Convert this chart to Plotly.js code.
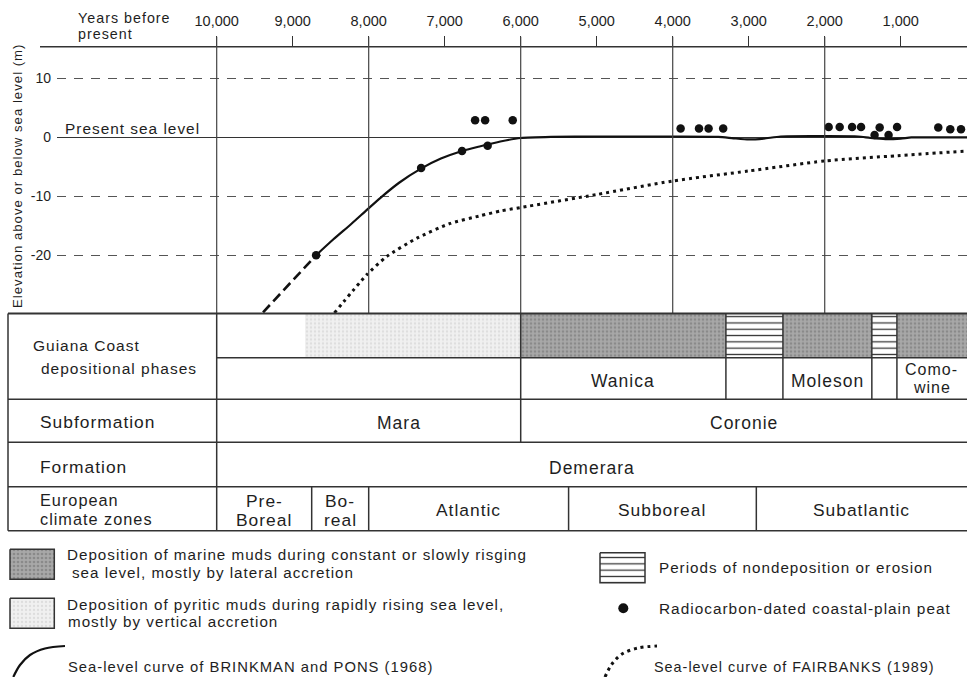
<!DOCTYPE html>
<html><head><meta charset="utf-8">
<script src="https://cdn.plot.ly/plotly-3.0.1.min.js"></script>
<style>
html,body{margin:0;padding:0;background:#fff;}
#chart{width:967px;height:677px;}
.annotation-text{letter-spacing:1px;}
</style></head><body><div id="chart"></div>
<script>
// ================= DATA =================
const yearTicks = [10000, 9000, 8000, 7000, 6000, 5000, 4000, 3000, 2000, 1000];
const yearTickLabels = ['10,000', '9,000', '8,000', '7,000', '6,000', '5,000', '4,000', '3,000', '2,000', '1,000'];
const elevTicks = [10, 0, -10, -20];
const elevTickLabels = ['10', '0', '-10', '-20'];
const majorYearLines = [10000, 8000, 6000, 4000, 2000];

// Sea-level curve of BRINKMAN and PONS (1968): extrapolated (dashed) and observed (solid)
const brinkDashYears = [9390, 8692];
const brinkDashElev = [-29.7, -20];
const brinkYears = [8692, 8464, 8230, 8024, 7849, 7600, 7312, 7050, 6772, 6530, 6268, 6000, 5600, 5000, 4000, 3400, 3200, 3000, 2800, 2580, 2000, 1560, 1400, 1200, 1000, 860, 500, 0];
const brinkElev = [-20, -17.3, -14.7, -12.3, -10.3, -7.7, -5.3, -3.6, -2.3, -1.5, -0.7, -0.1, 0.1, 0.15, 0.15, 0.1, -0.15, -0.35, -0.2, 0.15, 0.2, 0.15, -0.1, -0.3, -0.2, 0, 0, 0];

// Sea-level curve of FAIRBANKS (1989)
const fairYears = [8451, 8024, 7760, 7365, 6926, 6530, 6267, 6000, 5000, 4000, 3000, 2000, 1040, 0];
const fairElev = [-29.8, -23.3, -20.2, -17.1, -14.6, -13.3, -12.5, -11.9, -9.7, -7.4, -5.7, -4.0, -3.1, -2.2];

// Radiocarbon-dated coastal-plain peat
const peatYears = [8692, 7310, 6772, 6435, 6600, 6468, 6105, 3896, 3654, 3528, 3336, 1948, 1803, 1640, 1522, 1344, 1277, 1160, 1048, 506, 348, 207];
const peatElev = [-20, -5.2, -2.3, -1.4, 2.9, 2.9, 2.9, 1.5, 1.5, 1.5, 1.5, 1.75, 1.75, 1.75, 1.75, 0.4, 1.7, 0.4, 1.75, 1.7, 1.4, 1.4];

// Guiana Coast depositional phases (years BP)
const pyriticStart = [8840];
const pyriticEnd = [6000];
const marineStart = [6000, 2550, 1050];
const marineEnd = [3300, 1380, 0];
const gapStart = [3300, 1380];
const gapEnd = [2550, 1050];
const phaseNames = ['Wanica', 'Moleson', 'Como-\nwine'];

const subformations = ['Mara', 'Coronie'];
const subStart = [10000, 6000];
const subEnd = [6000, 0];

const formations = ['Demerara'];
const formStart = [10000];
const formEnd = [0];

const climateZones = ['Pre-\nBoreal', 'Bo-\nreal', 'Atlantic', 'Subboreal', 'Subatlantic'];
const climStart = [10000, 8750, 8000, 5370, 2900];
const climEnd = [8750, 8000, 5370, 2900, 0];

const rowTitles = ['Guiana Coast\ndepositional phases', 'Subformation', 'Formation', 'European\nclimate zones'];
const legendTexts = [
  'Deposition of marine muds during constant or slowly risging\nsea level, mostly by lateral accretion',
  'Deposition of pyritic muds during rapidly rising sea level,\nmostly by vertical accretion',
  'Sea-level curve of BRINKMAN and PONS (1968)',
  'Periods of nondeposition or erosion',
  'Radiocarbon-dated coastal-plain peat',
  'Sea-level curve of FAIRBANKS (1989)'
];

// ================= LAYOUT HELPERS =================
const W = 967, H = 677;
const PX = p => p / W;
const PY = p => 1 - p / H;
const FONT = 'Liberation Sans, Arial, Helvetica, sans-serif';
const INK = '#1e1e1e';
const LINE = '#333';

const xLeftYear = 12101, xRightYear = 128;
const plotTop = 46.7, plotBottom = 313.5, tickTop = 36.7;
const tblTop = 313.5, r1Mid = 357.7, r1Bot = 399.3, r2Bot = 442.3, r3Bot = 486.7, r4Bot = 530.7, tblLeft = 8;
const tableStartYear = 10000;

const visMid = (s, e) => (Math.min(s, xLeftYear) + Math.max(e, xRightYear)) / 2;

function txt(text, x, y, size, extra) {
  return Object.assign({
    text: text, x: x, y: y, xref: 'paper', yref: 'paper', showarrow: false,
    xanchor: 'center', yanchor: 'middle', borderpad: 0, borderwidth: 0,
    font: {family: FONT, size: size, color: INK}
  }, extra || {});
}

// ================= TRACES =================
const traces = [];

function barTrace(starts, ends, color, pattern) {
  return {
    type: 'bar', orientation: 'h', xaxis: 'x', yaxis: 'y2',
    y: starts.map(() => 0), base: starts, x: starts.map((s, i) => ends[i] - s),
    width: starts.map(() => 1),
    marker: {color: color, line: {width: 0}, pattern: pattern},
    hoverinfo: 'skip', showlegend: false
  };
}
const patMarine = {shape: '.', bgcolor: '#a8a8a8', fgcolor: '#8a8a8a', size: 4, solidity: 0.35};
const patPyritic = {shape: '.', bgcolor: '#f0f0f0', fgcolor: '#dddddd', size: 4, solidity: 0.25};
const patGap = {shape: '-', bgcolor: '#ffffff', fgcolor: '#333333', size: 6.3, solidity: 0.2};

traces.push(barTrace(pyriticStart, pyriticEnd, '#f0f0f0', patPyritic));
traces.push(barTrace(marineStart, marineEnd, '#a8a8a8', patMarine));
traces.push(barTrace(gapStart, gapEnd, '#ffffff', patGap));

traces.push({type: 'scatter', mode: 'lines', x: fairYears, y: fairElev,
  line: {color: '#111', width: 3, dash: '3px,4px', shape: 'spline', smoothing: 0.6}, hoverinfo: 'skip', showlegend: false});
traces.push({type: 'scatter', mode: 'lines', x: brinkDashYears, y: brinkDashElev,
  line: {color: '#111', width: 2.6, dash: '10px,5px'}, hoverinfo: 'skip', showlegend: false});
traces.push({type: 'scatter', mode: 'lines', x: brinkYears, y: brinkElev,
  line: {color: '#111', width: 2.2, shape: 'spline', smoothing: 0.6}, hoverinfo: 'skip', showlegend: false});
traces.push({type: 'scatter', mode: 'markers', x: peatYears, y: peatElev,
  marker: {color: '#111', size: 8.5}, hoverinfo: 'skip', showlegend: false});

// legend glyphs in a pixel-space overlay subplot
function swatch(x0, y0, x1, y1, pattern) {
  return {type: 'scatter', xaxis: 'x2', yaxis: 'y3', mode: 'lines',
    x: [x0, x1, x1, x0, x0], y: [y0, y0, y1, y1, y0], fill: 'toself',
    fillcolor: pattern.bgcolor, fillpattern: pattern,
    line: {color: LINE, width: 1.5}, hoverinfo: 'skip', showlegend: false};
}
traces.push(swatch(10, 549.3, 54.3, 579.3, patMarine));
traces.push(swatch(10, 598.3, 54.3, 628.3, patPyritic));
traces.push(swatch(600, 552.7, 645, 582.7, patGap));
traces.push({type: 'scatter', xaxis: 'x2', yaxis: 'y3', mode: 'lines',
  x: [13.3, 20, 30, 45, 65], y: [677, 665, 655, 648.5, 646],
  line: {color: '#111', width: 2.2, shape: 'spline'}, cliponaxis: false, hoverinfo: 'skip', showlegend: false});
traces.push({type: 'scatter', xaxis: 'x2', yaxis: 'y3', mode: 'lines',
  x: [605, 612, 622, 638, 657], y: [677, 664, 654, 648, 646],
  line: {color: '#111', width: 3, dash: '3px,4px', shape: 'spline'}, cliponaxis: false, hoverinfo: 'skip', showlegend: false});
traces.push({type: 'scatter', xaxis: 'x2', yaxis: 'y3', mode: 'markers',
  x: [623.3], y: [608.3], marker: {color: '#111', size: 10}, cliponaxis: false, hoverinfo: 'skip', showlegend: false});

// ================= SHAPES =================
const shapes = [];
function hline(x0, x1, py, xref, w) {
  shapes.push({type: 'line', xref: xref, yref: 'paper', x0: x0, x1: x1, y0: PY(py), y1: PY(py),
    line: {color: LINE, width: w || 1.5}});
}
function vline(x, py0, py1, xref, w, c) {
  shapes.push({type: 'line', xref: xref, yref: 'paper', x0: x, x1: x, y0: PY(py0), y1: PY(py1),
    line: {color: c || LINE, width: w || 1.5}});
}
// top axis line
hline(PX(40), 1, plotTop, 'paper', 1.5);
// major vertical time lines in the curve panel
majorYearLines.forEach(yr => vline(yr, plotBottom, tickTop, 'x', 1.2, '#444'));
// table frame
hline(PX(tblLeft), 1, tblTop, 'paper', 2);
hline(tableStartYear, 0, r1Mid, 'x', 1.5);
[r1Bot, r2Bot, r3Bot, r4Bot].forEach(p => hline(PX(tblLeft), 1, p, 'paper', 1.5));
vline(PX(tblLeft), tblTop, r4Bot, 'paper', 1.5);
vline(tableStartYear, tblTop, r4Bot, 'x', 1.5);
const inside = v => v < tableStartYear && v > xRightYear;
const phaseBounds = Array.from(new Set(marineStart.concat(gapStart, gapEnd))).filter(inside);
phaseBounds.forEach(v => vline(v, tblTop, r1Bot, 'x'));
subStart.filter(inside).forEach(v => vline(v, r1Bot, r2Bot, 'x'));
climStart.filter(inside).forEach(v => vline(v, r3Bot, r4Bot, 'x'));

// ================= ANNOTATIONS =================
const ann = [];
// axis header and labels
ann.push(txt('Years before', PX(78), PY(18), 14.3, {xanchor: 'left'}));
ann.push(txt('present', PX(78), PY(34.2), 14.3, {xanchor: 'left'}));
ann.push(txt('Present sea level', PX(65), PY(128.9), 15.4, {xanchor: 'left'}));
ann.push(txt('Elevation above or below sea level (m)', PX(17.5), PY(175.5), 13.2, {textangle: -90}));

// row titles
const rt0 = rowTitles[0].split('\n'), rt3 = rowTitles[3].split('\n');
ann.push(txt(rt0[0], PX(33.3), PY(345), 15.5, {xanchor: 'left'}));
ann.push(txt(rt0[1], PX(41), PY(368.7), 15.5, {xanchor: 'left'}));
ann.push(txt(rowTitles[1], PX(40), PY(422), 17.4, {xanchor: 'left'}));
ann.push(txt(rowTitles[2], PX(40), PY(466.7), 17.4, {xanchor: 'left'}));
ann.push(txt(rt3[0], PX(40), PY(500.3), 16.3, {xanchor: 'left'}));
ann.push(txt(rt3[1], PX(40), PY(519.2), 16.3, {xanchor: 'left'}));

// cell text helper (one or two lines, in year coordinates)
function cell(label, s, e, pyCenter, size, lineGap, extra) {
  const lines = label.split('\n');
  const xm = visMid(s, e);
  lines.forEach((ln, i) => {
    const py = pyCenter + (i - (lines.length - 1) / 2) * lineGap;
    ann.push(txt(ln, xm, PY(py), size, Object.assign({xref: 'x'}, extra || {})));
  });
}
phaseNames.forEach((n, i) => cell(n, marineStart[i], marineEnd[i],
  n.includes('\n') ? 378.3 : 380.8, n.includes('\n') ? 16 : 17.5, 18));
subformations.forEach((n, i) => cell(n, subStart[i], subEnd[i], 423, 17.5, 0, i === 0 ? {xshift: 30} : {}));
formations.forEach((n, i) => cell(n, formStart[i], formEnd[i], 467.5, 17.5, 0));
climateZones.forEach((n, i) => cell(n, climStart[i], climEnd[i], n.includes('\n') ? 510.6 : 510, 17.4, 19.6));

// legend texts
const lg0 = legendTexts[0].split('\n'), lg1 = legendTexts[1].split('\n');
ann.push(txt(lg0[0], PX(67), PY(554.7), 15.2, {xanchor: 'left'}));
ann.push(txt(lg0[1], PX(71.7), PY(572.5), 15.2, {xanchor: 'left'}));
ann.push(txt(lg1[0], PX(67), PY(604), 15.2, {xanchor: 'left'}));
ann.push(txt(lg1[1], PX(68.3), PY(621.8), 15.2, {xanchor: 'left'}));
ann.push(txt(legendTexts[2], PX(68.3), PY(667.3), 14.8, {xanchor: 'left'}));
ann.push(txt(legendTexts[3], PX(659.3), PY(567.3), 15.2, {xanchor: 'left'}));
ann.push(txt(legendTexts[4], PX(659.3), PY(608.5), 15.4, {xanchor: 'left'}));
ann.push(txt(legendTexts[5], PX(654), PY(667.3), 14.4, {xanchor: 'left'}));

// ================= LAYOUT =================
const layout = {
  width: W, height: H, margin: {l: 0, r: 0, t: 0, b: 0},
  paper_bgcolor: '#ffffff', plot_bgcolor: 'rgba(0,0,0,0)',
  showlegend: false, barmode: 'overlay', bargap: 0,
  font: {family: FONT, color: INK},
  xaxis: {domain: [PX(57), 1], range: [xLeftYear, xRightYear], side: 'top', anchor: 'y',
    tickmode: 'array', tickvals: yearTicks, ticktext: yearTickLabels,
    ticks: 'outside', ticklen: 10, tickwidth: 1.3, tickcolor: LINE,
    showgrid: false, zeroline: false, showline: false, ticklabelstandoff: 4,
    tickfont: {family: FONT, size: 14.5, color: INK}, fixedrange: true},
  yaxis: {domain: [PY(plotBottom), PY(plotTop)], range: [-29.9, 15.4], anchor: 'x',
    tickmode: 'array', tickvals: elevTicks, ticktext: elevTickLabels, ticks: '',
    showgrid: true, gridcolor: '#555', griddash: '9px,8px', gridwidth: 1,
    zeroline: true, zerolinecolor: '#333', zerolinewidth: 1.5, showline: false,
    tickfont: {family: FONT, size: 14, color: INK}, ticklabelstandoff: 5, fixedrange: true},
  yaxis2: {domain: [PY(r1Mid), PY(tblTop)], range: [-0.5, 0.5], visible: false, anchor: 'x', fixedrange: true},
  xaxis2: {domain: [0, 1], range: [0, W], visible: false, anchor: 'y3', fixedrange: true},
  yaxis3: {domain: [0, 1], range: [H, 0], visible: false, anchor: 'x2', fixedrange: true},
  shapes: shapes,
  annotations: ann
};

Plotly.newPlot('chart', traces, layout, {staticPlot: true, displayModeBar: false});
</script></body></html>
